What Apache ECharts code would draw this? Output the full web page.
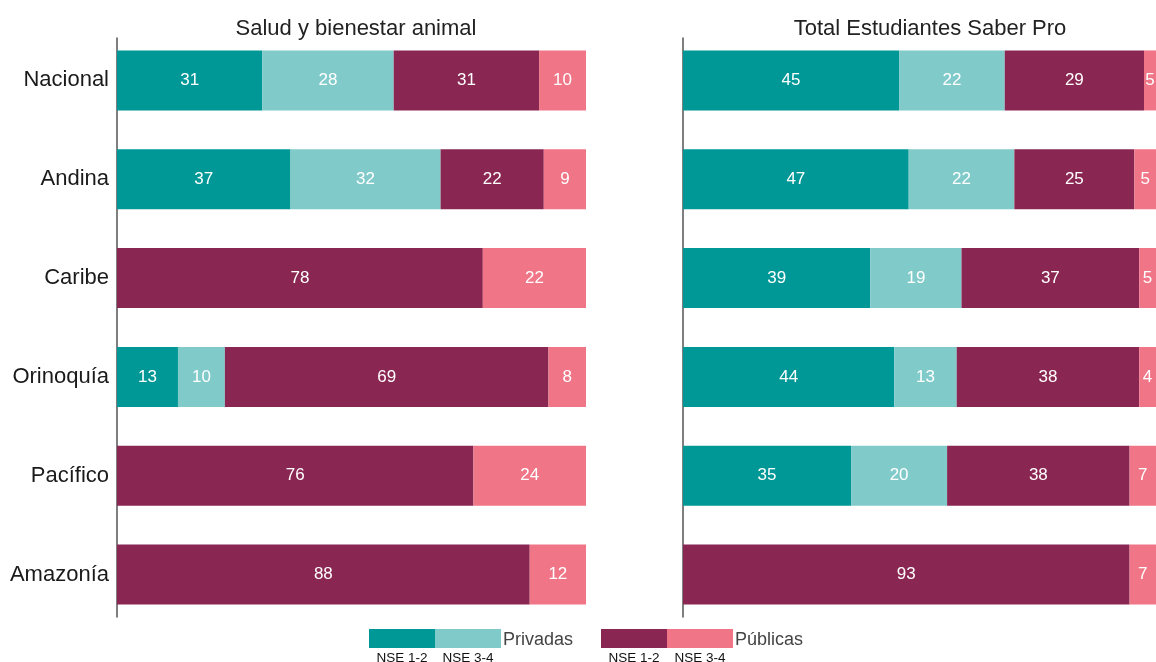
<!DOCTYPE html>
<html><head><meta charset="utf-8">
<script src="https://cdn.jsdelivr.net/npm/echarts@6/dist/echarts.min.js"></script>
<style>html,body{margin:0;padding:0;background:#fff}#c{width:1156px;height:662px}</style>
</head><body><div id="c"></div>
<script>
const categories = ['Nacional','Andina','Caribe','Orinoquía','Pacífico','Amazonía'];
const titles = ['Salud y bienestar animal','Total Estudiantes Saber Pro'];
const seriesNames = ['Privadas NSE 1-2','Privadas NSE 3-4','Públicas NSE 1-2','Públicas NSE 3-4'];
const colors = ['#009896','#80CACA','#8A2652','#EF7587'];
// Left panel: Salud y bienestar animal
const salud_priv12 = [31, 37, 0, 13, 0, 0];
const salud_priv34 = [28, 32, 0, 10, 0, 0];
const salud_pub12  = [31, 22, 78, 69, 76, 88];
const salud_pub34  = [10, 9, 22, 8, 24, 12];
// Right panel: Total Estudiantes Saber Pro
const total_priv12 = [45, 47, 39, 44, 35, 0];
const total_priv34 = [22, 22, 19, 13, 20, 0];
const total_pub12  = [29, 25, 37, 38, 38, 93];
const total_pub34  = [5, 5, 5, 4, 7, 7];
// visible x-range of each panel (right panel is cut off at the picture edge)
const xMax = [100, 98.5];

const panels = [
  [salud_priv12, salud_priv34, salud_pub12, salud_pub34],
  [total_priv12, total_priv34, total_pub12, total_pub34]
];

const font = 'Liberation Sans, Arial, sans-serif';
const grids = [
  {left:117, right:570, top:31, bottom:38},
  {left:683, right:0, top:31, bottom:38},
  {left:117, right:570, top:38, bottom:45},
  {left:683, right:0, top:38, bottom:45}
];
const xAxis = [], yAxis = [], series = [];
for (let p = 0; p < 2; p++) {
  xAxis.push({gridIndex:p, type:'value', min:0, max:xMax[p], show:false});
  yAxis.push({gridIndex:p, type:'category', data:categories, inverse:true,
    axisLine:{show:false}, axisTick:{show:false},
    axisLabel:{show:p===0, color:'#1a1a1a', fontSize:22, fontFamily:font, margin:8}});
  panels[p].forEach((vals, i) => {
    series.push({
      name: seriesNames[i], type:'bar', stack:'s'+p, xAxisIndex:p, yAxisIndex:p,
      data: vals.map(v => v === 0 ? null : v), barWidth:60, clip:true,
      itemStyle:{color:colors[i]},
      label:{show:true, position:'inside', color:'#fff', fontSize:17, fontFamily:font,
        formatter: d => d.value}
    });
  });
}
for (let p = 0; p < 2; p++) {
  xAxis.push({gridIndex:p+2, type:'value', show:false});
  yAxis.push({gridIndex:p+2, type:'category', data:categories,
    axisLine:{show:true, lineStyle:{color:'#555', width:1.5}}, axisTick:{show:false}, axisLabel:{show:false}});
}

const legendGroups = [
  {x:369, label:'Privadas', cols:[colors[0], colors[1]]},
  {x:601, label:'Públicas', cols:[colors[2], colors[3]]}
];
const graphic = [];
legendGroups.forEach(g => {
  g.cols.forEach((c, k) => {
    graphic.push({type:'rect', left:g.x + k*66, top:629, shape:{width:66, height:19}, style:{fill:c}});
    graphic.push({type:'text', x:g.x + k*66 + 33, y:651,
      style:{text: k===0 ? 'NSE 1-2' : 'NSE 3-4', fill:'#111', fontSize:13.5, fontFamily:font, align:'center', verticalAlign:'top'}});
  });
  graphic.push({type:'text', x:g.x + 134, y:640,
    style:{text:g.label, fill:'#444', fontSize:18, fontFamily:font, verticalAlign:'middle'}});
});

const chart = echarts.init(document.getElementById('c'));
chart.setOption({
  animation:false,
  title: [
    {text:titles[0], left:351, top:13, textAlign:'center', textStyle:{fontSize:22, fontWeight:'normal', color:'#222', fontFamily:font}},
    {text:titles[1], left:925, top:13, textAlign:'center', textStyle:{fontSize:22, fontWeight:'normal', color:'#222', fontFamily:font}}
  ],
  grid: grids, xAxis, yAxis, series, graphic
});
</script></body></html>
